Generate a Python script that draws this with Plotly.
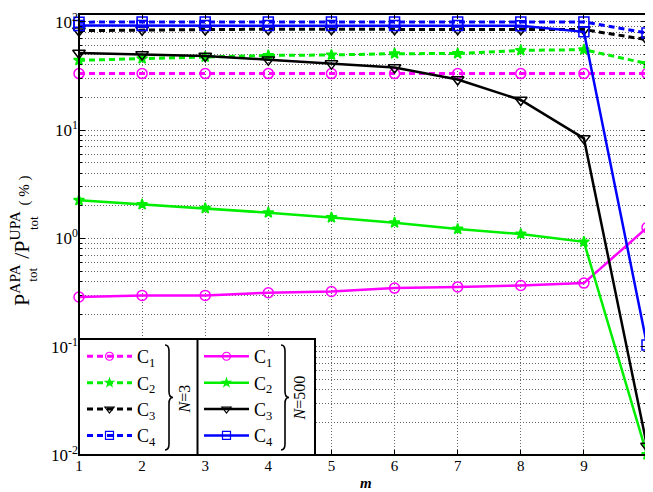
import plotly.graph_objects as go

# ---------------- data ----------------
m_values = [1, 2, 3, 4, 5, 6, 7, 8, 9, 10]
series_names = ["C<sub>1</sub>", "C<sub>2</sub>", "C<sub>3</sub>", "C<sub>4</sub>"]

n3_c1 = [33.3, 33.3, 33.3, 33.3, 33.3, 33.3, 33.3, 33.3, 33.3, 33.3]
n3_c2 = [44.2, 45.8, 47.5, 49.0, 49.5, 50.9, 51.0, 54.6, 55.4, 41.2]
n3_c3 = [83.0, 84.5, 85.0, 85.5, 85.5, 85.5, 85.5, 85.5, 85.0, 68.5]
n3_c4 = [99.5, 100.0, 100.0, 100.0, 100.0, 100.0, 100.0, 100.0, 100.0, 79.0]

n500_c1 = [0.288, 0.298, 0.298, 0.315, 0.324, 0.348, 0.357, 0.368, 0.387, 1.26]
n500_c2 = [2.25, 2.06, 1.90, 1.73, 1.56, 1.40, 1.22, 1.10, 0.93, 0.0101]
n500_c3 = [51.6, 50.1, 48.5, 44.8, 41.2, 37.9, 29.4, 19.0, 8.4, 0.0121]
n500_c4 = [92.5, 92.5, 92.5, 92.5, 92.5, 92.5, 92.5, 92.0, 81.0, 0.104]

y_major = [0.01, 0.1, 1, 10, 100]
y_major_text = ["10<sup>-2</sup>", "10<sup>-1</sup>", "10<sup>0</sup>", "10<sup>1</sup>", "10<sup>2</sup>"]
y_minor = [d * k for d in [0.01, 0.1, 1, 10, 100] for k in range(2, 10)]
x_ticks = [1, 2, 3, 4, 5, 6, 7, 8, 9, 10]

colors = ["#ff00ff", "#00ee00", "#000000", "#0000ff"]
symbols = ["circle-open", "star", "triangle-down-open", "square-open"]
msizes = [10, 8, 11, 10]
legend_msizes = [8, 6, 8, 8]

# ---------------- layout geometry ----------------
OFF = 8  # page body margin
W, H = 653 - OFF, 492 - OFF
PL, PR, PT, PB = 79, 647, 10, 455  # plot area in page pixels
L, R, T, B = PL - OFF, (W + OFF) - PR, PT - OFF, (H + OFF) - PB
PW, PH = PR - PL, PB - PT
SERIF = "Liberation Serif, Times New Roman, serif"


def px(x):
    return (x - PL) / PW


def py(y):
    return (PB - y) / PH


fig = go.Figure()

n3 = [n3_c1, n3_c2, n3_c3, n3_c4]
n500 = [n500_c1, n500_c2, n500_c3, n500_c4]
DASH = "6px,4px"

for group, data, lw, dash, leg in ((0, n3, 3, DASH, "legend"), (1, n500, 2.5, "solid", "legend2")):
    for i in range(4):
        fig.add_trace(go.Scatter(
            x=m_values, y=data[i], mode="lines+markers", name=series_names[i],
            line=dict(color=colors[i], width=lw, dash=dash),
            marker=dict(symbol=symbols[i], size=msizes[i], color=colors[i],
                        line=dict(color=colors[i], width=1.5)),
            showlegend=False, cliponaxis=False,
        ))
    for i in range(4):
        # legend-only entries (smaller markers, as in the reference legend)
        fig.add_trace(go.Scatter(
            x=[None], y=[None], mode="lines+markers", name=series_names[i],
            line=dict(color=colors[i], width=lw, dash=dash),
            marker=dict(symbol=symbols[i], size=legend_msizes[i], color=colors[i],
                        line=dict(color=colors[i], width=1.2)),
            legend=leg, showlegend=True,
        ))

grid_col = "#666666"
GD = "1px,2px"
fig.update_xaxes(
    range=[1, 10], tickvals=x_ticks, ticks="inside", ticklen=5, tickwidth=1,
    tickcolor="black", showline=False, zeroline=False,
    showgrid=True, gridcolor=grid_col, griddash=GD, gridwidth=1,
    tickfont=dict(family=SERIF, size=15, color="black"),
    mirror="ticks",
)
fig.update_yaxes(
    type="log", range=[-2, 2.073], tickvals=y_major, ticktext=y_major_text,
    ticks="inside", ticklen=6, tickwidth=1, tickcolor="black",
    showline=False, zeroline=False, mirror="ticks",
    showgrid=True, gridcolor=grid_col, griddash=GD, gridwidth=1,
    tickfont=dict(family=SERIF, size=17, color="black"),
    ticklabeloverflow="allow",
    minor=dict(tickvals=y_minor, ticks="inside", ticklen=3, tickcolor="black",
               showgrid=True, gridcolor=grid_col, griddash=GD, gridwidth=1),
)

# frame + legend box shapes
box_x0, box_x1, box_div = 79, 315, 197.5
box_y0, box_y1 = 338, 455
shapes = [
    dict(type="rect", xref="paper", yref="paper", x0=px(box_x0), x1=px(box_x1),
         y0=py(box_y1), y1=py(box_y0), fillcolor="white",
         line=dict(color="black", width=2), layer="above"),
    dict(type="line", xref="paper", yref="paper", x0=px(box_div), x1=px(box_div),
         y0=py(box_y1), y1=py(box_y0), line=dict(color="black", width=2), layer="above"),
    dict(type="rect", xref="paper", yref="paper", x0=0, x1=1, y0=0, y1=1,
         line=dict(color="black", width=2), layer="above"),
]


def brace(a, w, y1, y2, r=6):
    ym = (y1 + y2) / 2
    hx = a + w / 2
    pts = [
        ("M", [(a, y1)]),
        ("Q", [(hx, y1), (hx, y1 + r)]),
        ("L", [(hx, ym - r)]),
        ("Q", [(hx, ym), (a + w, ym)]),
        ("Q", [(hx, ym), (hx, ym + r)]),
        ("L", [(hx, y2 - r)]),
        ("Q", [(hx, y2), (a, y2)]),
    ]
    s = ""
    for cmd, ps in pts:
        s += cmd + " ".join(f"{px(x):.5f},{py(y):.5f}" for x, y in ps)
    return s


for a in (165, 281):
    shapes.append(dict(type="path", xref="paper", yref="paper", path=brace(a, 8, 344, 450),
                       line=dict(color="black", width=1.6), layer="above"))


def ann(text, x, y, size, angle=0):
    return dict(text=text, xref="paper", yref="paper", x=px(x), y=py(y),
                xanchor="center", yanchor="middle", textangle=angle, showarrow=False,
                font=dict(family=SERIF, size=size, color="black"))


annotations = [
    ann("<i>N</i>=3", 185, 399, 16, -90),
    ann("<i>N</i>=500", 300, 398, 16, -90),
    ann("<b><i>m</i></b>", 366, 483, 15),
    # y-axis title
    ann("P<sup>APA</sup> /P<sup>UPA</sup> <span style='font-size:15px'>( % )</span>", 20, 239, 22, -90),
    ann("tot", 33, 273, 13, -90),
    ann("tot", 33, 221, 13, -90),
]

legend_common = dict(
    bgcolor="rgba(0,0,0,0)", borderwidth=0, itemwidth=45, yanchor="top", xanchor="left",
    font=dict(family=SERIF, size=18, color="black"), tracegroupgap=0, itemclick=False,
)

fig.update_layout(
    width=W, height=H, margin=dict(l=L, r=R, t=T, b=B),
    paper_bgcolor="white", plot_bgcolor="white",
    shapes=shapes, annotations=annotations,
    legend=dict(x=px(82), y=py(337), **legend_common),
    legend2=dict(x=px(199), y=py(337), **legend_common),
    showlegend=True,
)

fig.write_html("out.html")
